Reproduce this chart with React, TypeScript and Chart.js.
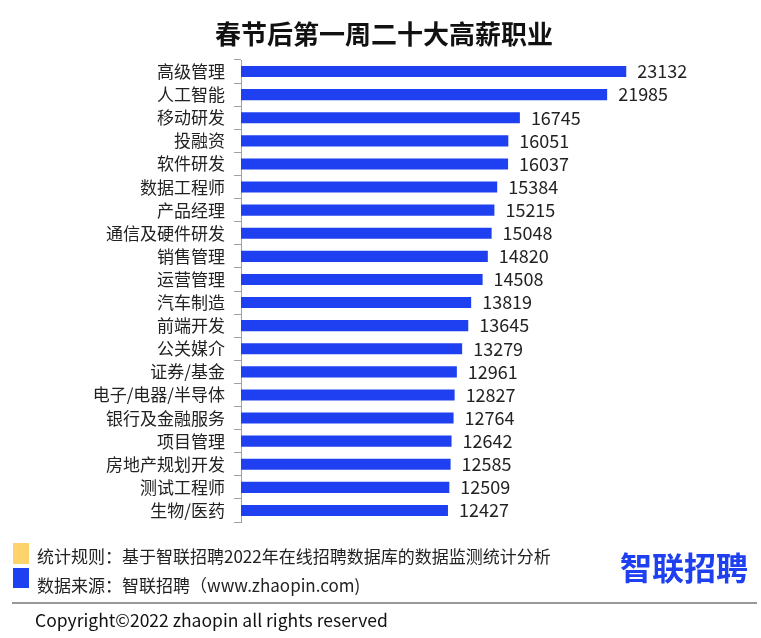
import React, { useEffect, useRef } from "react";
import { Chart, registerables } from "chart.js";

Chart.register(...registerables);

const title = "春节后第一周二十大高薪职业";
const categories = [
  "高级管理", "人工智能", "移动研发", "投融资", "软件研发",
  "数据工程师", "产品经理", "通信及硬件研发", "销售管理", "运营管理",
  "汽车制造", "前端开发", "公关媒介", "证券/基金", "电子/电器/半导体",
  "银行及金融服务", "项目管理", "房地产规划开发", "测试工程师", "生物/医药",
];
const salaries = [
  23132, 21985, 16745, 16051, 16037,
  15384, 15215, 15048, 14820, 14508,
  13819, 13645, 13279, 12961, 12827,
  12764, 12642, 12585, 12509, 12427,
];
const noteRule = "统计规则：基于智联招聘2022年在线招聘数据库的数据监测统计分析";
const noteSource = "数据来源：智联招聘（www.zhaopin.com)";
const copyright = "Copyright©2022 zhaopin all rights reserved";
const logo = "智联招聘";

const FONT = "'Noto Sans CJK SC', 'Noto Sans', sans-serif";
const BLUE = "#1f40f0";

const valueLabels = {
  id: "valueLabels",
  afterDatasetsDraw(chart: any) {
    const ctx = chart.ctx;
    const meta = chart.getDatasetMeta(0);
    ctx.save();
    ctx.font = `18px ${FONT}`;
    ctx.fillStyle = "#222";
    ctx.textAlign = "left";
    ctx.textBaseline = "middle";
    meta.data.forEach((bar: any, i: number) => {
      ctx.fillText(String(chart.data.datasets[0].data[i]), bar.x + 11, bar.y);
    });
    ctx.restore();
  },
};

export default function App() {
  const ref = useRef<HTMLCanvasElement>(null);
  useEffect(() => {
    if (!ref.current) return;
    const chart = new Chart(ref.current, {
      type: "bar",
      data: {
        labels: categories,
        datasets: [
          {
            data: salaries,
            backgroundColor: BLUE,
            categoryPercentage: 1,
            barPercentage: 0.48,
          },
        ],
      },
      options: {
        indexAxis: "y",
        responsive: false,
        animation: false,
        layout: { padding: { top: 60, bottom: 116, right: 62, left: 0 } },
        plugins: { legend: { display: false }, tooltip: { enabled: false } },
        scales: {
          x: { display: false, min: 0, max: 27500 },
          y: {
            afterFit(scale: any) {
              scale.width = 241;
            },
            border: { display: true, color: "#a0a0a0", width: 1 },
            grid: {
              offset: true,
              drawOnChartArea: false,
              drawTicks: true,
              tickLength: 7,
              color: "#a0a0a0",
            },
            ticks: {
              autoSkip: false,
              padding: 9,
              color: "#222",
              font: { family: FONT, size: 17 },
            },
          },
        },
      },
      plugins: [valueLabels],
    });
    return () => chart.destroy();
  }, []);

  return (
    <div
      style={{
        position: "absolute",
        left: 0,
        top: 0,
        width: 761,
        height: 638,
        background: "#fff",
        overflow: "hidden",
        fontFamily: FONT,
      }}
    >
      <canvas ref={ref} width={761} height={638} style={{ position: "absolute", left: 0, top: 0 }} />
      <div
        style={{
          position: "absolute",
          left: 0,
          width: 768,
          top: 14,
          textAlign: "center",
          fontSize: 26,
          fontWeight: 700,
          color: "#111",
          lineHeight: "38px",
        }}
      >
        {title}
      </div>
      <div style={{ position: "absolute", left: 13, top: 543, width: 16, height: 21, background: "#ffd36b" }} />
      <div style={{ position: "absolute", left: 13, top: 568, width: 16, height: 20, background: BLUE }} />
      <div style={{ position: "absolute", left: 37, top: 544, fontSize: 17, lineHeight: "24px", color: "#222", whiteSpace: "nowrap" }}>
        {noteRule}
      </div>
      <div style={{ position: "absolute", left: 37, top: 573, fontSize: 17, lineHeight: "24px", color: "#222", whiteSpace: "nowrap" }}>
        {noteSource}
      </div>
      <div
        style={{
          position: "absolute",
          left: 620,
          top: 545,
          fontSize: 32,
          fontWeight: 700,
          lineHeight: "42px",
          color: BLUE,
          whiteSpace: "nowrap",
        }}
      >
        {logo}
      </div>
      <div style={{ position: "absolute", left: 12, top: 602, width: 745, height: 2, background: "#999" }} />
      <div style={{ position: "absolute", left: 35, top: 608, fontSize: 17.5, lineHeight: "24px", color: "#111", whiteSpace: "nowrap" }}>
        {copyright}
      </div>
    </div>
  );
}
